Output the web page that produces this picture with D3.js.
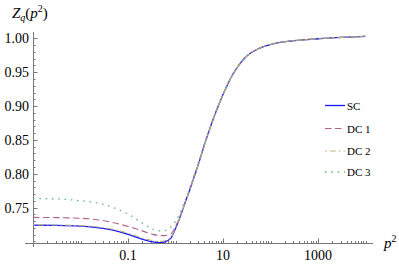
<!DOCTYPE html>
<html>
<head>
<meta charset="utf-8">
<script src="https://cdn.jsdelivr.net/npm/d3@7"></script>
<style>
html,body{margin:0;padding:0;background:#fff;}
svg{display:block;}
</style>
</head>
<body>
<svg id="chart" width="399" height="264" font-family="'Liberation Serif', 'Times New Roman', serif"></svg>
<script>
// ---- data ----
const p2 = [0.001, 0.00316, 0.01, 0.0178, 0.0316, 0.0562, 0.1, 0.178, 0.316, 0.447, 0.562, 0.794,
  1, 1.26, 1.58, 2.0, 2.51, 3.16, 3.98, 5.01, 6.31, 7.94, 10, 12.6, 15.8, 22.4, 31.6, 56.2,
  100, 178, 316, 1000, 3162, 10000];
const SC  = [0.7240, 0.7237, 0.7225, 0.7212, 0.7190, 0.7155, 0.7105, 0.7045, 0.6997, 0.6982, 0.6988, 0.7045,
  0.7190, 0.7370, 0.7565, 0.7765, 0.7970, 0.8180, 0.8410, 0.8620, 0.8820, 0.9000, 0.9170, 0.9325, 0.9460, 0.9620, 0.9740, 0.9850,
  0.9910, 0.9945, 0.9968, 0.9995, 1.0015, 1.0030];
const DC1 = [0.7355, 0.7352, 0.7343, 0.7330, 0.7305, 0.7268, 0.7222, 0.7168, 0.7110, 0.7088, 0.7086, 0.7110,
  0.7220, 0.7380, 0.7568, 0.7767, 0.7971, 0.8181, 0.8411, 0.8621, 0.8821, 0.9001, 0.9170, 0.9325, 0.9460, 0.9620, 0.9740, 0.9850,
  0.9910, 0.9945, 0.9968, 0.9995, 1.0015, 1.0030];
const DC2 = [0.7245, 0.7243, 0.7233, 0.7222, 0.7202, 0.7170, 0.7122, 0.7065, 0.7015, 0.7000, 0.7005, 0.7058,
  0.7198, 0.7375, 0.7567, 0.7766, 0.7971, 0.8181, 0.8411, 0.8621, 0.8821, 0.9001, 0.9170, 0.9325, 0.9460, 0.9620, 0.9740, 0.9850,
  0.9910, 0.9945, 0.9968, 0.9995, 1.0015, 1.0030];
const DC3 = [0.7632, 0.7630, 0.7600, 0.7582, 0.7545, 0.7485, 0.7405, 0.7295, 0.7190, 0.7158, 0.7160, 0.7210,
  0.7300, 0.7430, 0.7600, 0.7790, 0.7990, 0.8195, 0.8415, 0.8623, 0.8822, 0.9002, 0.9171, 0.9325, 0.9460, 0.9620, 0.9740, 0.9850,
  0.9910, 0.9945, 0.9968, 0.9995, 1.0015, 1.0030];
const seriesNames = ["SC", "DC 1", "DC 2", "DC 3"];
const xTickLabels = [0.1, 10, 1000];
const yTickLabels = [0.75, 0.80, 0.85, 0.90, 0.95, 1.00];

// ---- styles ----
const styles = [
  {color: "#1a1aff", width: 1.3, dash: null},
  {color: "#b0628e", width: 1.1, dash: "6.5,3.5"},
  {color: "#bfb27a", width: 1.1, dash: "1.8,3,6,3"},
  {color: "#6db688", width: 1.3, dash: "1.6,4.7"}
];
const seriesData = [SC, DC1, DC2, DC3];

const svg = d3.select("#chart");
const x = d3.scaleLog().domain([1e-3, 1e4]).range([33, 365.5]);
const y = d3.scaleLinear().domain([0.6977, 1.0095]).range([243, 32]);
const axisColor = "#777";

// axis lines
svg.append("line").attr("x1", 25).attr("x2", 373).attr("y1", 243.5).attr("y2", 243.5)
  .attr("stroke", axisColor).attr("stroke-width", 1);
svg.append("line").attr("x1", 33.5).attr("x2", 33.5).attr("y1", 32).attr("y2", 247)
  .attr("stroke", axisColor).attr("stroke-width", 1);

// y ticks
const yMinor = d3.range(70, 101).map(v => v / 100).filter(v => y(v) <= 243 && y(v) >= 32);
svg.selectAll(".ymin").data(yMinor).enter().append("line")
  .attr("x1", 33).attr("x2", d => yTickLabels.some(t => Math.abs(t - d) < 1e-6) ? 37.5 : 35.5)
  .attr("y1", d => Math.round(y(d)) + 0.5).attr("y2", d => Math.round(y(d)) + 0.5)
  .attr("stroke", axisColor).attr("stroke-width", 1);
svg.selectAll(".ylab").data(yTickLabels).enter().append("text")
  .attr("x", 29).attr("y", d => y(d) + 5)
  .attr("text-anchor", "end").attr("font-size", 14)
  .text(d => d.toFixed(2));

// x ticks (log minor)
const xMinor = [];
for (let e = -3; e < 4; e++) for (let m = 1; m < 10; m++) xMinor.push(m * Math.pow(10, e));
xMinor.push(1e4);
svg.selectAll(".xmin").data(xMinor.filter(d => d > 1.0001e-3)).enter().append("line")
  .attr("x1", d => Math.round(x(d)) + 0.5).attr("x2", d => Math.round(x(d)) + 0.5)
  .attr("y1", 243).attr("y2", d => xTickLabels.some(t => Math.abs(t - d) / t < 1e-6) ? 238.5 : 241)
  .attr("stroke", axisColor).attr("stroke-width", 1);
svg.selectAll(".xlab").data(xTickLabels).enter().append("text")
  .attr("x", d => x(d)).attr("y", 260)
  .attr("text-anchor", "middle").attr("font-size", 14)
  .text(d => String(d));

// curves
svg.append("clipPath").attr("id", "clip").append("rect")
  .attr("x", 33).attr("y", 30).attr("width", 345).attr("height", 213);
const line = d3.line().curve(d3.curveMonotoneX).x(d => x(d[0])).y(d => y(d[1]));
seriesData.forEach((vals, i) => {
  const pts = p2.map((p, j) => [p, vals[j]]);
  svg.append("path").datum(pts)
    .attr("clip-path", "url(#clip)")
    .attr("fill", "none").attr("stroke", styles[i].color)
    .attr("stroke-width", styles[i].width)
    .attr("stroke-dasharray", styles[i].dash)
    .attr("d", line);
});

// legend
const legY = [105.5, 128.5, 151, 172];
seriesNames.forEach((name, i) => {
  svg.append("line").attr("x1", 325).attr("x2", 345).attr("y1", legY[i]).attr("y2", legY[i])
    .attr("stroke", styles[i].color).attr("stroke-width", styles[i].width)
    .attr("stroke-dasharray", styles[i].dash);
  svg.append("text").attr("x", 347).attr("y", legY[i] + 4).attr("font-size", 11).text(name);
});

// axis labels
const yl = svg.append("text").attr("x", 12).attr("y", 18).attr("font-size", 15);
yl.append("tspan").attr("font-style", "italic").text("Z");
yl.append("tspan").attr("font-style", "italic").attr("font-size", 10).attr("dy", 3).text("q");
yl.append("tspan").attr("dy", -3).text("(");
yl.append("tspan").attr("font-style", "italic").text("p");
yl.append("tspan").attr("font-size", 10).attr("dy", -6).text("2");
yl.append("tspan").attr("dy", 6).text(")");

const xl = svg.append("text").attr("x", 384).attr("y", 248).attr("font-size", 15);
xl.append("tspan").attr("font-style", "italic").text("p");
xl.append("tspan").attr("font-size", 10).attr("dy", -6).text("2");
</script>
</body>
</html>
